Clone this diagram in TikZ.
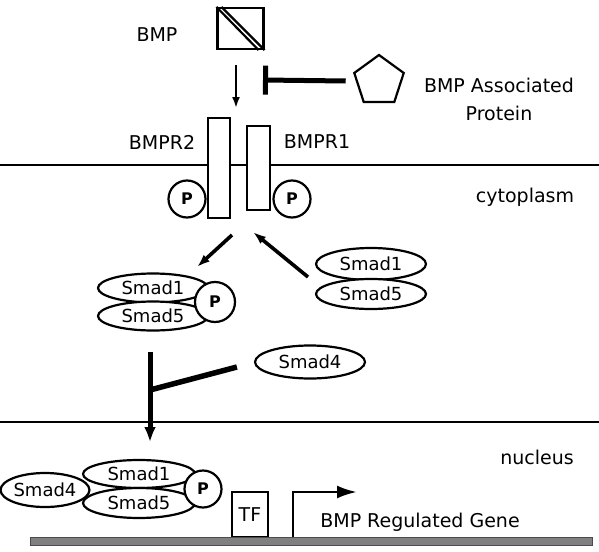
\documentclass[tikz,border=0pt]{standalone}
\usepackage{fontspec}
\setmainfont{DejaVu Sans}
\usetikzlibrary{shapes.geometric, arrows.meta}

\begin{document}
\begin{tikzpicture}[%
    x=1pt, y=-1pt,
    font=\fontsize{19}{22}\selectfont,
    line width=2.2pt,
    smad/.style={draw, fill=white, ellipse, inner sep=0pt,
      minimum width=110pt, minimum height=29pt,
      font=\fontsize{18}{20}\selectfont},
    phos/.style={draw, fill=white, circle, inner sep=0pt,
      minimum size=37pt, font=\fontsize{16}{18}\selectfont\bfseries},
    receptor/.style={draw, fill=white, inner sep=0pt},
    fat/.style={line width=3.6pt, -{Latex[length=13pt, width=9pt]}}
  ]
  \useasboundingbox (0,0) rectangle (599,551);

  % membranes
  \draw[line width=1.4pt] (0,165) -- (599,165);
  \draw[line width=1.4pt] (0,422) -- (599,422);

  % ligand and its blocker
  \node (bmplabel) at (157,35) {BMP};
  \node[draw, minimum width=46pt, minimum height=41pt, inner sep=0pt] (bmp) at (240.5,28.5) {};
  \draw (bmp.north west) -- ([xshift=-6pt]bmp.south east);
  \draw ([xshift=5pt]bmp.north west) -- (bmp.south east);
  \node[draw, regular polygon, regular polygon sides=5, inner sep=0pt,
    minimum size=52pt] (bap) at (379,81) {};
  \node[align=center, font=\fontsize{19}{28}\selectfont] (baplabel) at (499,99) {BMP Associated\\Protein};

  \coordinate (dock) at (236,108);
  \coordinate (block) at (263,80);
  \draw[line width=2.6pt, -{Latex[length=11pt, width=8pt]}] ([yshift=-15pt]bmp.south -| dock) -- (dock);
  \draw[line width=5pt, -{Bar[width=29pt]}] ([xshift=-10pt]bap.west) -- (block);

  % receptors
  \node[receptor, minimum width=22pt, minimum height=100pt] (bmpr2) at (219,168) {};
  \node[receptor, minimum width=23pt, minimum height=84pt] (bmpr1) at (258.5,168) {};
  \node (r2label) at (162,142) {BMPR2};
  \node (r1label) at (317,142) {BMPR1};
  \node[phos] (p2) at (187,199) {P};
  \node[phos] (p1) at (292,199) {P};
  \node (cyto) at (525,197) {cytoplasm};

  % R-Smads
  \node[smad, minimum height=32pt] (rsmad1) at (371,264) {Smad1};
  \node[smad, minimum height=30pt] (rsmad5) at (371,294) {Smad5};
  \node[smad] (lsmad1) at (153,288) {Smad1};
  \node[smad] (lsmad5) at (153,316) {Smad5};
  \node[phos, minimum size=40pt] (lp) at (215,302) {P};

  \coordinate (fork) at (232,235);
  \coordinate (lin) at (197,267);
  \coordinate (rout) at (308,277);
  \coordinate (rin) at (253,232);
  \draw[fat] (fork) -- (lin);
  \draw[fat] (rout) -- (rin);

  % co-Smad joins on the way in
  \node[smad, minimum height=33pt] (smad4) at (310,362) {Smad4};
  \coordinate (top) at (150,352);
  \coordinate (join) at (150,390);
  \coordinate (entry) at (150,453);
  \draw[line width=5pt, -{Latex[length=26pt, width=10pt]}] (top) -- (entry);
  \draw[line width=5.5pt] (join) -- ([xshift=-17pt, yshift=-5pt]smad4.west);
  \node (nuc) at (537,457) {nucleus};

  % nuclear complex on the gene
  \node[smad, minimum width=88pt, minimum height=34pt] (nsmad4) at (45,490) {Smad4};
  \node[smad, minimum width=112pt, minimum height=28pt] (nsmad1) at (139,474) {Smad1};
  \node[smad, minimum width=112pt, minimum height=30pt] (nsmad5) at (139,503) {Smad5};
  \node[phos] (np) at (203,489) {P};
  \node[draw, minimum width=36pt, minimum height=45pt, inner sep=0pt] (tf) at (250,514.5) {TF};

  \node[draw=black!70, fill=black!50, line width=1pt, minimum width=562pt, minimum height=8pt,
    inner sep=0pt] (dna) at (311,541) {};
  \coordinate (tss) at (293,537);
  \coordinate (tip) at (357,492);
  \draw[line width=2.8pt, -{Latex[length=20pt, width=13pt]}] (tss) |- (tip);
  \node (gene) at (420,522) {BMP Regulated Gene};
\end{tikzpicture}
\end{document}
